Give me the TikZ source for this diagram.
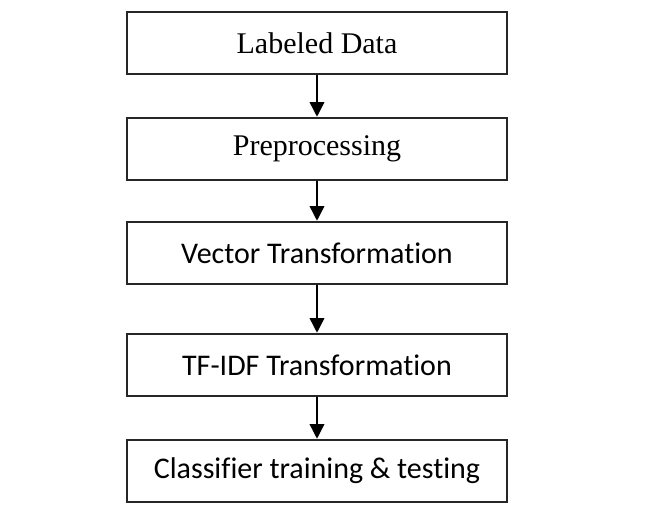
\documentclass[tikz,border=0pt]{standalone}
\usepackage{fontspec}
\setmainfont{Liberation Serif}
\newfontfamily\sansfont[Ligatures=NoCommon]{Carlito}
\usetikzlibrary{shapes,arrows.meta}

\begin{document}
\begin{tikzpicture}[x=0.75pt, y=-0.75pt]
\tikzstyle{stagebox}=[rectangle, draw=black!85, line width=1.4pt, minimum width=285pt, minimum height=47pt, inner sep=2pt]
\tikzstyle{drawstyle}=[line width=1.1pt, -{Triangle[width=11pt, length=11pt]}]

\useasboundingbox (0,0) rectangle (672,530);

\node[stagebox, font=\fontsize{22.5}{26}\selectfont] (S0) at (317,43) {Labeled Data};
\node[stagebox, font=\fontsize{22.5}{26}\selectfont] (S1) at (317,149) {Preprocessing};
\draw[drawstyle] (S0) -- (S1);
\node[stagebox, font=\sansfont\fontsize{22.5}{26}\selectfont] (S2) at (317,253) {Vector Transformation};
\draw[drawstyle] (S1) -- (S2);
\node[stagebox, font=\sansfont\fontsize{22.5}{26}\selectfont] (S3) at (317,365) {TF-IDF Transformation};
\draw[drawstyle] (S2) -- (S3);
\node[stagebox, font=\sansfont\fontsize{22.5}{26}\selectfont] (S4) at (317,471) {Classifier training \& testing};
\draw[drawstyle] (S3) -- (S4);
\end{tikzpicture}
\end{document}
